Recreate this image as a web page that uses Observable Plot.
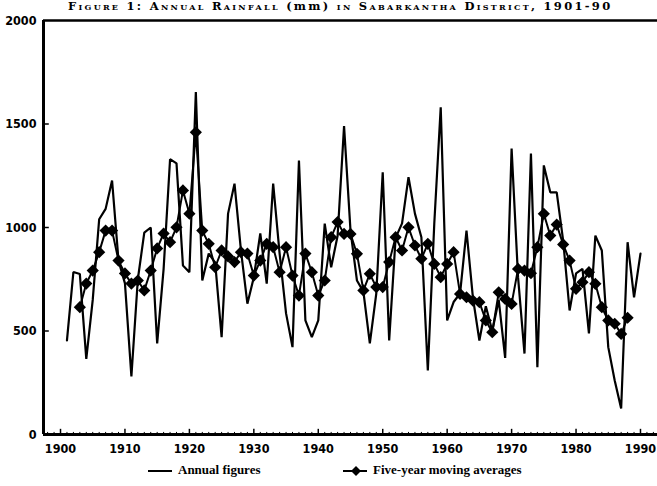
<!DOCTYPE html>
<html>
<head>
<meta charset="utf-8">
<script src="https://cdn.jsdelivr.net/npm/d3@7"></script>
<script src="https://cdn.jsdelivr.net/npm/@observablehq/plot@0.6"></script>
<style>
  html, body { margin: 0; padding: 0; background: white; }
  #wrap { width: 657px; height: 486px; position: relative; overflow: hidden; background: white; }
  #title { height: 12px; position: relative; }
  #title span.t { position: absolute; left: 68px; top: 0px; line-height: 12px; white-space: nowrap;
    font-family: "DejaVu Serif", "Liberation Serif", serif; font-size: 11.5px; font-weight: bold;
    font-variant: small-caps; letter-spacing: 2.3px; }
  #legend { position: absolute; top: 462px; left: 0; width: 657px; height: 20px;
    font-family: "Liberation Serif", serif; font-size: 13px; font-weight: bold; }
  #legend .item { position: absolute; top: 0; display: flex; align-items: center; gap: 6px; }
</style>
</head>
<body>
<div id="wrap">
  <div id="title"><span class="t">Figure 1: Annual Rainfall <span style="font-variant: normal">(mm)</span> in Sabarkantha District, 1901-90</span></div>
  <div id="chart"></div>
  <div id="legend"></div>
</div>
<script>
// ---- data ----
const years = d3.range(1901, 1991);
const annual = [
  455, 785, 775, 365, 650, 1040, 1090, 1227, 840, 730,
  280, 750, 975, 1000, 440, 800, 1330, 1310, 816, 784,
  1654, 744, 874, 830, 470, 1067, 1212, 889, 632, 760,
  971, 729, 1212, 874, 585, 422, 1324, 551, 470, 551,
  1019, 808, 960, 1490, 985, 744, 690, 440, 681, 1267,
  454, 950, 1020, 1243, 1067, 953, 309, 1018, 1581, 551,
  640, 681, 985, 660, 454, 620, 500, 650, 370, 1381,
  760, 391, 1357, 325, 1300, 1170, 1170, 937, 599, 778,
  800, 488, 961, 889, 422, 261, 126, 929, 663, 874
];
const maYears = d3.range(1903, 1989);
const movingAvg = [
  615, 729, 792, 881, 985, 985, 840, 778,
  729, 744, 696, 792, 899, 971, 929, 1001, 1179, 1067,
  1460, 985, 921, 808, 889, 860, 833, 881, 874, 768,
  840, 921, 905, 784, 905, 768, 671, 874, 784, 671,
  744, 953, 1026, 969, 969, 873, 696, 776, 712, 712,
  833, 953, 889, 1001, 913, 849, 921, 824, 760, 824,
  881, 679, 663, 647, 639, 551, 494, 687, 655, 631,
  800, 792, 779, 905, 1066, 961, 1014, 918, 840, 704,
  736, 784, 728, 615, 551, 535, 486, 564
];
const xTicks = [1900, 1910, 1920, 1930, 1940, 1950, 1960, 1970, 1980, 1990];
const yTicks = [0, 500, 1000, 1500, 2000];
const legendLabels = ["Annual figures", "Five-year moving averages"];

// ---- build ----
const annualRows = years.map((yr, i) => ({year: yr, value: annual[i]}));
const maRows = maYears.map((yr, i) => ({year: yr, value: movingAvg[i]}));
const xMin = 1897.36, xMax = 1992.64;
const minorYears = d3.range(1898, 1993).filter(y => y % 10 !== 0);
const tickFont = '"Liberation Sans Narrow", "DejaVu Sans Condensed", "Liberation Sans", sans-serif';

const chart = Plot.plot({
  width: 657,
  height: 452,
  marginTop: 8,
  marginBottom: 30,
  marginLeft: 43,
  marginRight: 0,
  x: {domain: [xMin, xMax], axis: null},
  y: {domain: [0, 2000], axis: null},
  style: {background: "white", color: "black", overflow: "visible"},
  marks: [
    Plot.ruleX(minorYears, {y1: 0, y2: 10, stroke: "black", strokeWidth: 1}),
    Plot.ruleX(xTicks, {y1: 0, y2: 25, stroke: "black", strokeWidth: 1.5}),
    Plot.ruleY(yTicks.slice(1, 4), {x1: xMin, x2: xMin + 0.9, stroke: "black", strokeWidth: 1.5}),
    Plot.ruleY([0], {stroke: "black", strokeWidth: 3}),
    Plot.ruleY([2000], {stroke: "black", strokeWidth: 2.5}),
    Plot.ruleX([xMin], {stroke: "black", strokeWidth: 3}),
    Plot.line(annualRows, {x: "year", y: "value", stroke: "black", strokeWidth: 2.2, strokeLinejoin: "miter"}),
    Plot.line(maRows, {x: "year", y: "value", stroke: "black", strokeWidth: 2}),
    Plot.dot(maRows, {x: "year", y: "value", symbol: "diamond2", r: 5.5, fill: "black", stroke: "none"}),
    Plot.text(xTicks, {x: d => d, y: 0, dy: 14, text: d => String(d), fontSize: 12.5, fontWeight: "bold",
      fontFamily: tickFont, fill: "black"}),
    Plot.text(yTicks, {x: xMin, y: d => d, dx: -7, text: d => String(d), textAnchor: "end", fontSize: 12.5,
      fontWeight: "bold", fontFamily: tickFont, fill: "black"})
  ]
});
document.getElementById("chart").appendChild(chart);

// ---- legend ----
const legend = document.getElementById("legend");
function addItem(left, label, withDiamond) {
  const item = document.createElement("div");
  item.className = "item";
  item.style.left = left + "px";
  const ns = "http://www.w3.org/2000/svg";
  const sw = document.createElementNS(ns, "svg");
  sw.setAttribute("width", 24); sw.setAttribute("height", 16);
  const ln = document.createElementNS(ns, "line");
  ln.setAttribute("x1", 0); ln.setAttribute("x2", 24); ln.setAttribute("y1", 9); ln.setAttribute("y2", 9);
  ln.setAttribute("stroke", "black"); ln.setAttribute("stroke-width", 2);
  sw.appendChild(ln);
  if (withDiamond) {
    const d = document.createElementNS(ns, "path");
    d.setAttribute("d", "M13,4 L18,9 L13,14 L8,9 Z");
    d.setAttribute("fill", "black");
    sw.appendChild(d);
  }
  item.appendChild(sw);
  const t = document.createElement("span");
  t.textContent = label;
  item.appendChild(t);
  legend.appendChild(item);
}
addItem(148, legendLabels[0], false);
addItem(343, legendLabels[1], true);
</script>
</body>
</html>
